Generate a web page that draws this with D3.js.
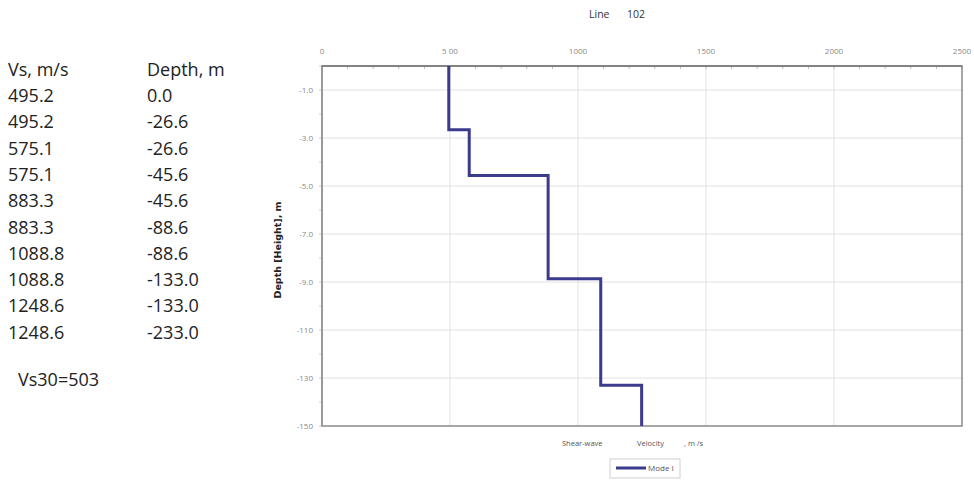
<!DOCTYPE html>
<html><head><meta charset="utf-8">
<script src="https://cdn.jsdelivr.net/npm/d3@7"></script>
<style>body{margin:0;background:#fff;}svg{display:block;}</style>
</head><body>
<svg id="c" width="974" height="480"></svg>
<script>
const vs = [495.2, 495.2, 575.1, 575.1, 883.3, 883.3, 1088.8, 1088.8, 1248.6, 1248.6];
const depth = [0.0, -26.6, -26.6, -45.6, -45.6, -88.6, -88.6, -133.0, -133.0, -233.0];
const vsLabels = ["495.2","495.2","575.1","575.1","883.3","883.3","1088.8","1088.8","1248.6","1248.6"];
const depthLabels = ["0.0","-26.6","-26.6","-45.6","-45.6","-88.6","-88.6","-133.0","-133.0","-233.0"];
const xTicks = [0, 500, 1000, 1500, 2000, 2500];
const xTickLabels = ["0", "5 00", "1000", "1500", "2000", "2500"];
const yTicks = [-10, -30, -50, -70, -90, -110, -130, -150];
const yTickLabels = ["-1.0", "-3.0", "-5.0", "-7.0", "-9.0", "-110", "-130", "-150"];
const vs30 = "Vs30=503";
const titleParts = ["Line", "102"];
const xTitleParts = ["Shear-wave", "Velocity", ", m /s"];
const seriesName = "Mode I";

const svg = d3.select("#c");
const L = 322, R = 962, T = 66, B = 426;
const x = d3.scaleLinear().domain([0, 2500]).range([L, R]);
const y = d3.scaleLinear().domain([0, -150]).range([T, B]);

// left table
const tf = "'Open Sans', sans-serif";
const tbl = svg.append("g").attr("font-family", tf).attr("font-size", 18).attr("fill", "#222");
tbl.append("text").attr("x", 8).attr("y", 76).text("Vs, m/s");
tbl.append("text").attr("x", 147).attr("y", 76).text("Depth, m");
vsLabels.forEach((v, i) => {
  const yy = 102 + i * 26.3;
  tbl.append("text").attr("x", 8).attr("y", yy).text(v);
  tbl.append("text").attr("x", 147).attr("y", yy).text(depthLabels[i]);
});
tbl.append("text").attr("x", 18).attr("y", 386).text(vs30);

// title
const tt = svg.append("g").attr("font-family", tf).attr("font-size", 10.5).attr("fill", "#333");
tt.append("text").attr("x", 589).attr("y", 18).text(titleParts[0]);
tt.append("text").attr("x", 627).attr("y", 18).text(titleParts[1]);

// grid
const g = svg.append("g");
g.selectAll(".vg").data(xTicks.slice(1, -1)).join("line")
  .attr("x1", d => x(d)).attr("x2", d => x(d)).attr("y1", T).attr("y2", B)
  .attr("stroke", "#e2e2e2").attr("stroke-width", 1);
g.selectAll(".hg").data(yTicks.slice(0, -1)).join("line")
  .attr("x1", L).attr("x2", R).attr("y1", d => y(d)).attr("y2", d => y(d))
  .attr("stroke", "#e2e2e2").attr("stroke-width", 1);

// minor ticks
const xMinor = d3.range(0, 2501, 100);
g.selectAll(".xm").data(xMinor).join("line")
  .attr("x1", d => x(d)).attr("x2", d => x(d)).attr("y1", T).attr("y2", T + 3)
  .attr("stroke", "#bbb");
const yMinor = d3.range(0, -151, -10);
g.selectAll(".ym").data(yMinor).join("line")
  .attr("x1", L - 3).attr("x2", L).attr("y1", d => y(d)).attr("y2", d => y(d))
  .attr("stroke", "#ccc");

// frame
svg.append("rect").attr("x", L).attr("y", T).attr("width", R - L).attr("height", B - T)
  .attr("fill", "none").attr("stroke", "#8a8a8a").attr("stroke-width", 1.5);
svg.append("line").attr("x1", L).attr("x2", L).attr("y1", T).attr("y2", B)
  .attr("stroke", "#999").attr("stroke-width", 2);
svg.append("line").attr("x1", L).attr("x2", R).attr("y1", T).attr("y2", T)
  .attr("stroke", "#777").attr("stroke-width", 1.5);

// tick labels
const tl = svg.append("g").attr("font-family", tf).attr("font-size", 8).attr("fill", "#888");
xTicks.forEach((t, i) => {
  tl.append("text").attr("x", x(t)).attr("y", 54).attr("text-anchor", "middle")
    .style("white-space", "pre").text(xTickLabels[i]);
});
yTicks.forEach((t, i) => {
  tl.append("text").attr("x", 313).attr("y", y(t) + 3).attr("text-anchor", "end").text(yTickLabels[i]);
});

// axis titles
svg.append("text").attr("transform", "translate(281,250) rotate(-90)")
  .attr("text-anchor", "middle").attr("font-family", "'DejaVu Sans', sans-serif")
  .attr("font-size", 9.5).attr("font-weight", "bold").attr("fill", "#222")
  .text("Depth [Height], m");
const xt = svg.append("g").attr("font-family", tf).attr("font-size", 7.5).attr("fill", "#555");
[562, 637, 684].forEach((px, i) => {
  xt.append("text").attr("x", px).attr("y", 446).text(xTitleParts[i]);
});

// line
svg.append("clipPath").attr("id", "clip").append("rect")
  .attr("x", L).attr("y", T).attr("width", R - L).attr("height", B - T);
const pts = vs.map((v, i) => [v, depth[i]]);
svg.append("path").datum(pts).attr("clip-path", "url(#clip)")
  .attr("d", d3.line().x(d => x(d[0])).y(d => y(d[1])))
  .attr("fill", "none").attr("stroke", "#3b3b8e").attr("stroke-width", 3);

// legend
const lg = svg.append("g");
lg.append("rect").attr("x", 610).attr("y", 459).attr("width", 70).attr("height", 19)
  .attr("fill", "#fff").attr("stroke", "#d0d0d0");
lg.append("line").attr("x1", 616).attr("x2", 646).attr("y1", 468).attr("y2", 468)
  .attr("stroke", "#3b3b8e").attr("stroke-width", 3);
lg.append("text").attr("x", 648).attr("y", 471).attr("font-family", tf).attr("font-size", 8)
  .attr("fill", "#555").text(seriesName);
</script>
</body></html>
